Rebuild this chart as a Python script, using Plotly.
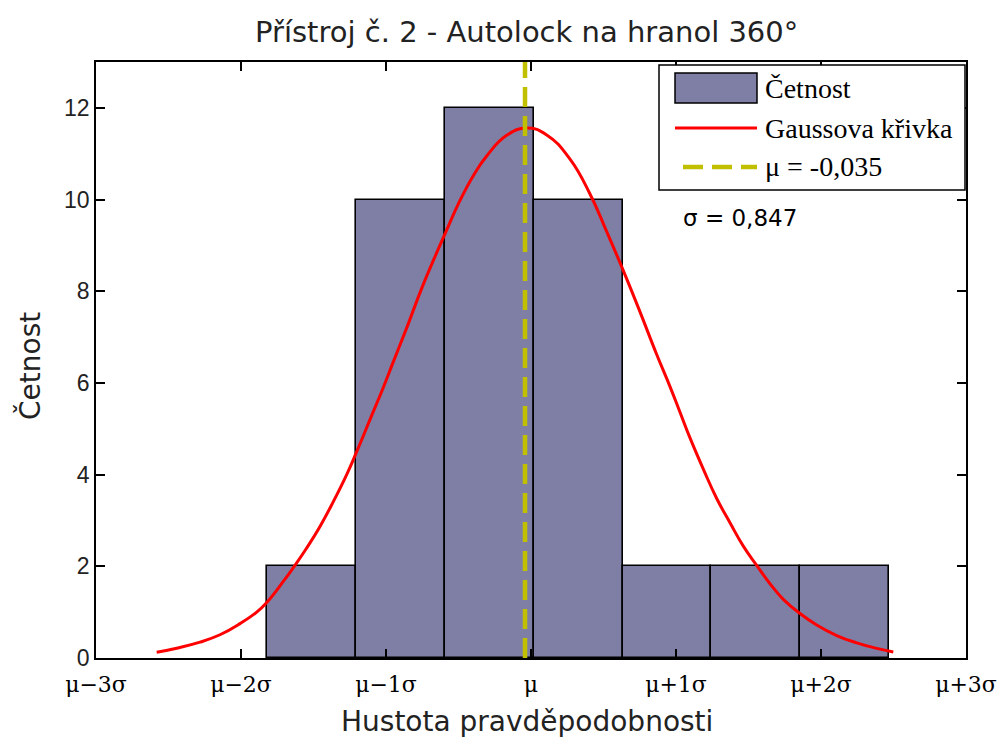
import numpy as np
import plotly.graph_objects as go

# ---------------- data ----------------
mu = -0.035
sigma = 0.847

bin_edges = [-1.540, -1.022, -0.503, 0.016, 0.535, 1.054, 1.572, 2.091]
counts = [2, 10, 12, 10, 2, 2, 2]

curve_x = [-2.1865, -2.0696, -1.9335, -1.8167, -1.6998, -1.6023, -1.5439, -1.4469,
           -1.3885, -1.3102, -1.2325, -1.1548, -1.0766, -1.0182, -0.9405, -0.8628,
           -0.8044, -0.7261, -0.6291, -0.5024, -0.4147, -0.3370, -0.2588, -0.1419,
           -0.0251, 0.0917, 0.2278, 0.3446, 0.4422, 0.5392, 0.6367, 0.7343,
           0.8120, 0.8704, 0.9288, 1.0065, 1.0848, 1.1624, 1.2401, 1.3184,
           1.3961, 1.4738, 1.5713, 1.6689, 1.7857, 1.9025, 2.0194, 2.1163]
curve_y = [0.126, 0.214, 0.346, 0.507, 0.75, 1.00, 1.21, 1.67,
           1.97, 2.40, 2.87, 3.41, 4.00, 4.50, 5.20, 5.90,
           6.46, 7.20, 8.15, 9.25, 9.98, 10.52, 10.95, 11.40,
           11.56, 11.41, 10.88, 10.12, 9.30, 8.45, 7.55, 6.62,
           5.92, 5.36, 4.80, 4.12, 3.48, 2.95, 2.44, 2.02,
           1.62, 1.28, 0.97, 0.72, 0.49, 0.33, 0.21, 0.13]

tick_mult = [-3, -2, -1, 0, 1, 2, 3]
tick_labels = ["μ−3σ", "μ−2σ", "μ−1σ", "μ", "μ+1σ", "μ+2σ", "μ+3σ"]
y_ticks = [0, 2, 4, 6, 8, 10, 12]

title_text = "Přístroj č. 2 - Autolock na hranol 360°"
x_title = "Hustota pravděpodobnosti"
y_title = "Četnost"
legend_labels = ["Četnost", "Gaussova křivka", "μ = -0,035"]
sigma_text = "σ = 0,847"

# ---------------- styles ----------------
BAR_COLOR = "#7f7fa5"
MEAN_COLOR = "#c0c000"
SANS = "DejaVu Sans, sans-serif"
SANS2 = "Liberation Sans, Arial, sans-serif"
SERIF = "Liberation Serif, Times New Roman, serif"
SERIF2 = "DejaVu Serif, serif"
TXT = "#222222"

edges = np.array(bin_edges)
centers = (edges[:-1] + edges[1:]) / 2
widths = np.diff(edges)

fig = go.Figure()
fig.add_trace(go.Bar(x=centers, y=counts, width=widths,
                     marker=dict(color=BAR_COLOR, line=dict(color="black", width=1.6)),
                     name=legend_labels[0], showlegend=False))
fig.add_trace(go.Scatter(x=curve_x, y=curve_y, mode="lines", line_shape="spline",
                         line=dict(color="red", width=3, smoothing=1.3), name=legend_labels[1],
                         showlegend=False))
fig.add_trace(go.Scatter(x=[mu, mu], y=[0, 13], mode="lines",
                         line=dict(color=MEAN_COLOR, width=4.5, dash="20px,9px"),
                         name=legend_labels[2], showlegend=False))

# ---- hand-made legend (MATLAB style) ----
def px2x(px):
    return (px - 96) / 870.0

def py2y(py):
    return (658 - py) / 596.0

shapes = [
    dict(type="rect", xref="paper", yref="paper", x0=px2x(659), x1=px2x(965),
         y0=py2y(190), y1=py2y(65), line=dict(color="black", width=1.5),
         fillcolor="white", layer="above"),
    dict(type="rect", xref="paper", yref="paper", x0=px2x(675), x1=px2x(757),
         y0=py2y(103), y1=py2y(73), line=dict(color="black", width=1.5),
         fillcolor=BAR_COLOR, layer="above"),
    dict(type="line", xref="paper", yref="paper", x0=px2x(675), x1=px2x(757),
         y0=py2y(128), y1=py2y(128), line=dict(color="red", width=3), layer="above"),
    dict(type="line", xref="paper", yref="paper", x0=px2x(683), x1=px2x(757),
         y0=py2y(167), y1=py2y(167),
         line=dict(color=MEAN_COLOR, width=4.5, dash="20px,9px"), layer="above"),
]

annotations = []
for lbl, py in zip(legend_labels, [88, 128, 166]):
    annotations.append(dict(text=lbl, xref="paper", yref="paper", x=px2x(763), y=py2y(py),
                            xanchor="left", yanchor="middle", showarrow=False,
                            font=dict(family=SERIF, size=28, color="black")))
annotations.append(dict(text=sigma_text, xref="paper", yref="paper", x=px2x(681), y=py2y(218),
                        xanchor="left", yanchor="middle", showarrow=False,
                        font=dict(family=SANS, size=23, color="black")))
annotations.append(dict(text=x_title, xref="paper", yref="paper", x=0.495, y=py2y(721),
                        xanchor="center", yanchor="middle", showarrow=False,
                        font=dict(family=SANS, size=28, color=TXT)))
annotations.append(dict(text=y_title, xref="paper", yref="paper", x=px2x(30), y=0.49,
                        xanchor="center", yanchor="middle", showarrow=False, textangle=-90,
                        font=dict(family=SANS, size=28, color=TXT)))

fig.update_layout(
    width=1002, height=740,
    margin=dict(l=96, r=36, t=62, b=82, autoexpand=False),
    paper_bgcolor="white", plot_bgcolor="white",
    title=dict(text=title_text, x=0.495, xref="paper", xanchor="center",
               y=1 - 32 / 740, yref="container", yanchor="middle",
               font=dict(family=SANS, size=29, color=TXT)),
    showlegend=False,
    bargap=0,
    shapes=shapes,
    annotations=annotations,
)

fig.update_xaxes(range=[-3 * sigma, 3 * sigma], tickmode="array",
                 tickvals=[k * sigma for k in tick_mult], ticktext=tick_labels,
                 ticks="inside", ticklen=9, tickwidth=1.5, tickcolor="black",
                 showline=True, linecolor="black", linewidth=1.5, mirror="ticks",
                 showgrid=False, zeroline=False, ticklabelstandoff=6,
                 tickfont=dict(family=SERIF2, size=22, color="black"))
fig.update_yaxes(range=[0, 13], tickmode="array", tickvals=y_ticks,
                 ticks="inside", ticklen=9, tickwidth=1.5, tickcolor="black",
                 showline=True, linecolor="black", linewidth=1.5, mirror="ticks",
                 showgrid=False, zeroline=False,
                 tickfont=dict(family=SANS2, size=23, color=TXT))

fig.write_html("out.html")
